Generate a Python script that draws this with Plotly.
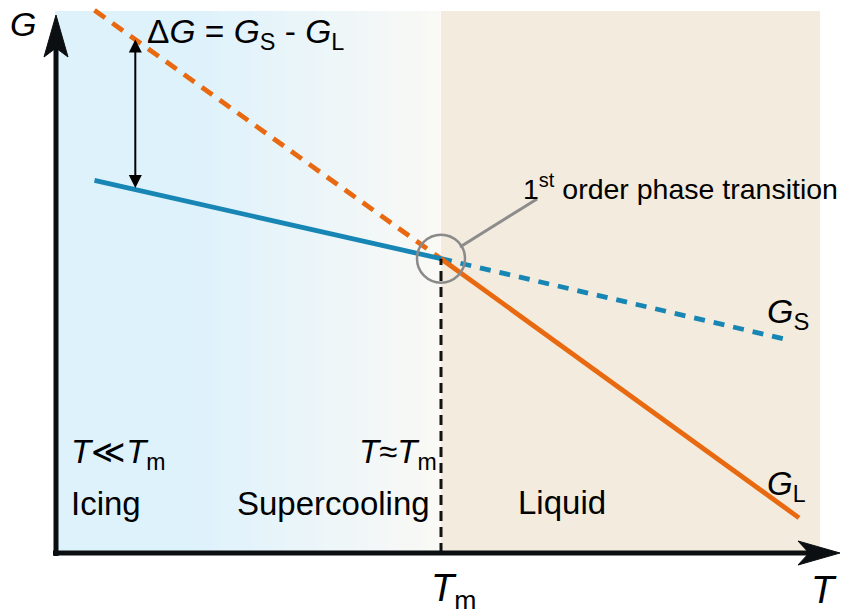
import numpy as np
import plotly.graph_objects as go

# ---------------- data (abstract units) ----------------
T_m = 5.0
# solid phase free energy G_S
gs_T_solid = [0.5, 5.0]
gs_G_solid = [6.9, 5.45]
gs_T_dash = [5.0, 9.5]
gs_G_dash = [5.45, 3.95]
# liquid phase free energy G_L
gl_T_dash = [0.5, 5.0]
gl_G_dash = [10.05, 5.45]
gl_T_solid = [5.0, 9.65]
gl_G_solid = [5.45, 0.65]
# position of the Delta-G arrow
dG_T = 1.03

# ---------------- pixel <-> data helpers (layout only) ----------------
W, H = 841, 612
X0, Y0, SX, SY = 56.0, 553.0, 77.0, 54.0
def tx(px):
    return (px - X0) / SX
def gy(py):
    return (Y0 - py) / SY

BLUE = "#1786b4"
ORANGE = "#e8690f"
FONT = "Liberation Sans, Arial, sans-serif"

fig = go.Figure()

# ---------------- backgrounds ----------------
shapes = []
bx0, bx1, btop = 55, 820, 11
c0 = np.array([222, 242, 252])
c1 = np.array([250, 249, 245])
g_start, g_end = 200, 440
shapes.append(dict(type="rect", xref="x", yref="y", x0=tx(bx0), x1=tx(g_start + 1),
                   y0=gy(Y0), y1=gy(btop), fillcolor="rgb(222,242,252)",
                   line=dict(width=0), layer="below"))
n = 60
edges = np.linspace(g_start, g_end, n + 1)
for i in range(n):
    f = (i + 0.5) / n
    c = c0 + (c1 - c0) * f
    shapes.append(dict(type="rect", xref="x", yref="y", x0=tx(edges[i]), x1=tx(edges[i + 1] + 0.6),
                       y0=gy(Y0), y1=gy(btop),
                       fillcolor="rgb(%d,%d,%d)" % tuple(np.round(c).astype(int)),
                       line=dict(width=0), layer="below"))
shapes.append(dict(type="rect", xref="x", yref="y", x0=T_m, x1=tx(bx1),
                   y0=gy(Y0), y1=gy(btop), fillcolor="rgb(243,235,221)",
                   line=dict(width=0), layer="below"))

# vertical dashed line at T_m
shapes.append(dict(type="line", xref="x", yref="y", x0=T_m, x1=T_m, y0=0, y1=gs_G_solid[-1],
                   line=dict(color="#111111", width=3, dash="10px,6px")))

# axes
AX_COL = "#0b0f12"
shapes.append(dict(type="line", xref="x", yref="y", x0=tx(53), x1=tx(815), y0=0, y1=0,
                   line=dict(color=AX_COL, width=5)))
shapes.append(dict(type="line", xref="x", yref="y", x0=0, x1=0, y0=gy(556), y1=gy(45),
                   line=dict(color=AX_COL, width=5)))
shapes.append(dict(type="path", xref="x", yref="y", xsizemode="pixel", ysizemode="pixel",
                   xanchor=0, yanchor=gy(15),
                   path="M0,0 L-12,-42 L0,-33 L12,-42 Z",
                   fillcolor=AX_COL, line=dict(color=AX_COL, width=1)))
shapes.append(dict(type="path", xref="x", yref="y", xsizemode="pixel", ysizemode="pixel",
                   xanchor=tx(840), yanchor=0,
                   path="M0,0 L-42,12 L-31,0 L-42,-12 Z",
                   fillcolor=AX_COL, line=dict(color=AX_COL, width=1)))

# pointer line for the phase-transition label
shapes.append(dict(type="line", xref="x", yref="y", x0=tx(460), y0=gy(247), x1=tx(537), y1=gy(199),
                   line=dict(color="#8c8c8c", width=3)))

# ---------------- curves ----------------
LW = 4.8
fig.add_trace(go.Scatter(x=gl_T_dash, y=gl_G_dash, mode="lines",
                         line=dict(color=ORANGE, width=LW, dash="13px,9px"), hoverinfo="skip"))
fig.add_trace(go.Scatter(x=gs_T_dash, y=gs_G_dash, mode="lines",
                         line=dict(color=BLUE, width=LW, dash="11px,9px"), hoverinfo="skip"))
fig.add_trace(go.Scatter(x=gs_T_solid, y=gs_G_solid, mode="lines",
                         line=dict(color=BLUE, width=LW), hoverinfo="skip"))
fig.add_trace(go.Scatter(x=gl_T_solid, y=gl_G_solid, mode="lines",
                         line=dict(color=ORANGE, width=LW), hoverinfo="skip"))
fig.add_trace(go.Scatter(x=[T_m], y=[gs_G_solid[-1]], mode="markers",
                         marker=dict(symbol="circle-open", size=48, color="#8a8a8a",
                                     line=dict(width=2.5, color="#8a8a8a")),
                         hoverinfo="skip"))

# ---------------- annotations ----------------
ann = []
g_top = float(np.interp(dG_T, gl_T_dash, gl_G_dash))
g_bot = float(np.interp(dG_T, gs_T_solid, gs_G_solid))
ann.append(dict(x=dG_T, y=g_top, ax=dG_T, ay=g_bot, xref="x", yref="y", axref="x", ayref="y",
                text="", showarrow=True, arrowhead=2, startarrowhead=2, arrowside="end+start",
                arrowwidth=2, arrowsize=1.3, startarrowsize=1.3, arrowcolor="#000000",
                standoff=0, startstandoff=0))

def label(text, px, baseline, size, xanchor="left", kind="plain"):
    off = {"plain": 0.35, "sub": 0.27, "sup": 0.42}[kind]
    ann.append(dict(x=tx(px), y=gy(baseline - off * size), xref="x", yref="y",
                    text=text, showarrow=False, xanchor=xanchor, yanchor="middle",
                    font=dict(family=FONT, size=size, color="#000000"),
                    borderpad=0))

label("<i>G</i>", 9, 36, 34)
label("Δ<i>G</i> = <i>G</i><sub>S</sub> - <i>G</i><sub>L</sub>", 146, 43, 33.5, kind="sub")
label("1<sup>st</sup> order phase transition", 522, 199, 28.5, kind="sup")
label("<i>G</i><sub>S</sub>", 766, 323, 34, kind="sub")
label("<i>G</i><sub>L</sub>", 766, 495, 33, kind="sub")
label("<i>T</i>≪<i>T</i><sub>m</sub>", 70, 463, 33, kind="sub")
label("<i>T</i>≈<i>T</i><sub>m</sub>", 438, 463, 33, xanchor="right", kind="sub")
label("Icing", 70, 515, 33)
label("Supercooling", 431, 515, 33, xanchor="right")
label("Liquid", 517, 514, 33)
label("<i>T</i><sub>m</sub>", 430, 601, 38, kind="sub")
label("<i>T</i>", 810, 603, 38)

fig.update_layout(
    width=W, height=H, autosize=False,
    margin=dict(l=0, r=0, t=0, b=0),
    paper_bgcolor="white", plot_bgcolor="white",
    showlegend=False,
    xaxis=dict(range=[tx(0), tx(W)], visible=False, fixedrange=True),
    yaxis=dict(range=[gy(H), gy(0)], visible=False, fixedrange=True),
    shapes=shapes, annotations=ann,
)
fig.write_html("out.html", config={"displayModeBar": False})
